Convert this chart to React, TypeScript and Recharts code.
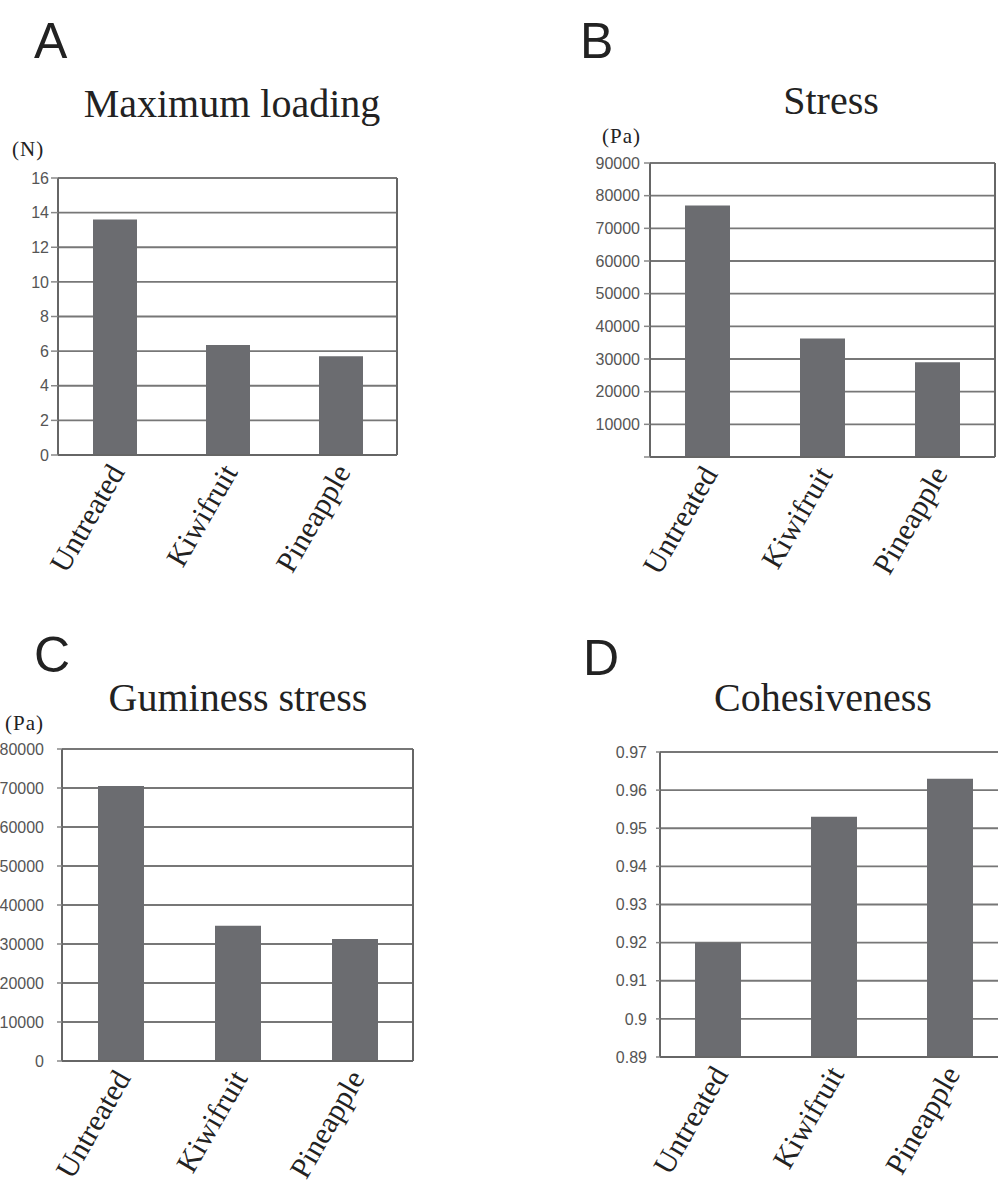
import React from "react";
import { BarChart, Bar, XAxis, YAxis, CartesianGrid } from "recharts";

const categories = ["Untreated", "Kiwifruit", "Pineapple"];

const maxLoading = [13.6, 6.35, 5.7];
const stress = [77000, 36300, 29000];
const guminessStress = [70500, 34700, 31300];
const cohesiveness = [0.92, 0.953, 0.963];

const loadingTicks = [0, 2, 4, 6, 8, 10, 12, 14, 16];
const stressTicks = [0, 10000, 20000, 30000, 40000, 50000, 60000, 70000, 80000, 90000];
const guminessTicks = [0, 10000, 20000, 30000, 40000, 50000, 60000, 70000, 80000];
const cohesivenessTicks = [0.89, 0.9, 0.91, 0.92, 0.93, 0.94, 0.95, 0.96, 0.97];

const BAR = "#6b6c70";
const GRID = "#777";
const BORDER = "#666";
const SERIF = "'Liberation Serif', 'Times New Roman', serif";
const SANS = "'Liberation Sans', Arial, sans-serif";

function SlantTick({ x, y, payload }: any) {
  return (
    <text
      transform={`translate(${x + 11},${y + 17}) rotate(-60)`}
      textAnchor="end"
      fontFamily={SERIF}
      fontSize={30}
      fill="#222"
    >
      {payload.value}
    </text>
  );
}

// right edge of the plot, so the frame is closed
const rightEdge = ({ offset }: any) => [offset.left + offset.width];

interface PanelProps {
  values: number[];
  ticks: number[];
  hideZero?: boolean;
  // chart box and plot rectangle, page coordinates
  box: { left: number; top: number; right: number; bottom: number };
  plot: { left: number; top: number; right: number; bottom: number };
  barSize: number;
  tickSize: number;
  tickMargin: number;
}

function Panel({ values, ticks, hideZero, box, plot, barSize, tickSize, tickMargin }: PanelProps) {
  const data = categories.map((c, i) => ({ name: c, value: values[i] }));
  const width = box.right - box.left;
  const height = box.bottom - box.top;
  const domain: [number, number] = [ticks[0], ticks[ticks.length - 1]];
  return (
    <div style={{ position: "absolute", left: box.left, top: box.top, width, height }}>
      <BarChart
        width={width}
        height={height}
        data={data}
        margin={{ top: plot.top - box.top, right: box.right - plot.right, left: 0, bottom: 0 }}
      >
        <CartesianGrid
          vertical={false}
          horizontalValues={ticks}
          stroke={GRID}
          strokeWidth={1.8}
        />
        <CartesianGrid
          horizontal={false}
          verticalCoordinatesGenerator={rightEdge}
          stroke={BORDER}
          strokeWidth={2}
        />
        <XAxis
          dataKey="name"
          interval={0}
          tickLine={false}
          tickSize={0}
          tickMargin={0}
          height={box.bottom - plot.bottom}
          axisLine={{ stroke: BORDER, strokeWidth: 2 }}
          tick={SlantTick}
        />
        <YAxis
          type="number"
          domain={domain}
          ticks={ticks}
          interval={0}
          allowDataOverflow
          width={plot.left - box.left}
          tickSize={tickSize}
          tickMargin={tickMargin}
          tickLine={{ stroke: "#888", strokeWidth: 1.5 }}
          axisLine={{ stroke: BORDER, strokeWidth: 2 }}
          tickFormatter={(v: number) => (hideZero && v === 0 ? "" : String(v))}
          tick={{ fontFamily: SANS, fontSize: 16, fill: "#555" }}
        />
        <Bar dataKey="value" fill={BAR} barSize={barSize} isAnimationActive={false} />
      </BarChart>
    </div>
  );
}

export default function App() {
  return (
    <div
      style={{
        position: "absolute",
        left: 0,
        top: 0,
        width: 998,
        height: 1183,
        overflow: "hidden",
        background: "#fff",
      }}
    >
      <Panel
        values={maxLoading}
        ticks={loadingTicks}
        box={{ left: 0, top: 150, right: 420, bottom: 610 }}
        plot={{ left: 58, top: 178, right: 397, bottom: 455 }}
        barSize={44}
        tickSize={7}
        tickMargin={2}
      />
      <Panel
        values={stress}
        ticks={stressTicks}
        hideZero
        box={{ left: 540, top: 150, right: 998, bottom: 610 }}
        plot={{ left: 650, top: 163, right: 995, bottom: 457 }}
        barSize={45}
        tickSize={6}
        tickMargin={4}
      />
      <Panel
        values={guminessStress}
        ticks={guminessTicks}
        box={{ left: -60, top: 740, right: 430, bottom: 1183 }}
        plot={{ left: 62, top: 749, right: 413, bottom: 1061 }}
        barSize={46}
        tickSize={5}
        tickMargin={13}
      />
      <Panel
        values={cohesiveness}
        ticks={cohesivenessTicks}
        box={{ left: 560, top: 740, right: 1010, bottom: 1183 }}
        plot={{ left: 660, top: 752, right: 1008, bottom: 1057 }}
        barSize={46}
        tickSize={4}
        tickMargin={9}
      />
      <svg
        width={998}
        height={1183}
        style={{ position: "absolute", left: 0, top: 0, pointerEvents: "none" }}
      >
        <g fontFamily={SANS} fontSize={50} fill="#222">
          <text x={34} y={58}>A</text>
          <text x={580} y={58}>B</text>
          <text x={34} y={672}>C</text>
          <text x={583} y={675}>D</text>
        </g>
        <g fontFamily={SERIF} fontSize={40} fill="#222" textAnchor="middle">
          <text x={232} y={117}>Maximum loading</text>
          <text x={831} y={114}>Stress</text>
          <text x={238} y={711}>Guminess stress</text>
          <text x={823} y={711}>Cohesiveness</text>
        </g>
        <g fontFamily={SERIF} fontSize={21} fill="#222" letterSpacing={1}>
          <text x={12} y={156}>(N)</text>
          <text x={602} y={143}>(Pa)</text>
          <text x={5} y={730}>(Pa)</text>
        </g>
      </svg>
    </div>
  );
}
